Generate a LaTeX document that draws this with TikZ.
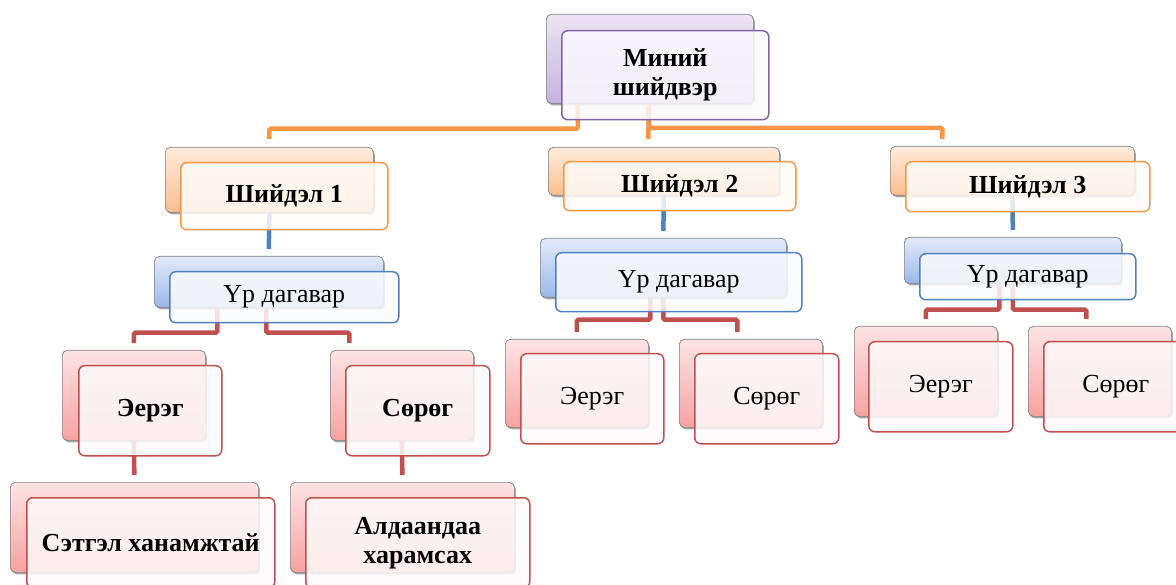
\documentclass[tikz,border=0pt]{standalone}
\usepackage{fontspec}
\setmainfont{Liberation Serif}
\usetikzlibrary{shadows,calc}
\definecolor{pB}{HTML}{8064A2}\definecolor{pT}{HTML}{EBE5F4}\definecolor{pD}{HTML}{C4B3DF}
\definecolor{oB}{HTML}{F79646}\definecolor{oT}{HTML}{FEECDE}\definecolor{oD}{HTML}{FBBE8E}
\definecolor{bB}{HTML}{4F81BD}\definecolor{bT}{HTML}{E3EBFA}\definecolor{bD}{HTML}{9BB8EB}
\definecolor{rB}{HTML}{C0504D}\definecolor{rT}{HTML}{FDE4E4}\definecolor{rD}{HTML}{F6A2A1}
\newcommand\backbox[6]{\node[backbox, minimum width=#4pt, minimum height=#5pt, top color=#6T, bottom color=#6D] (#1) at (#2,#3) {};}
\newcommand\frontbox[8]{\node[frontbox, draw=#6B, fill=#6B!3!white, minimum width=#4pt, minimum height=#5pt, font=#7] (#1) at (#2,#3) {#8};}
\begin{document}
\begin{tikzpicture}[x=1pt,y=-1pt,
  backbox/.style={draw=black!50, line width=0.7pt, rounded corners=5pt, anchor=north west, inner sep=0pt,
    drop shadow={shadow xshift=1.5pt, shadow yshift=-2pt, opacity=.35, fill=black}},
  frontbox/.style={line width=1.5pt, rounded corners=6pt, anchor=north west, inner sep=2pt, align=center,
    fill opacity=.85, text opacity=1},
  conn/.style={line width=4.5pt, rounded corners=1.5pt},
]
\useasboundingbox (0,0) rectangle (1176,585);
\def\fb{\fontsize{26}{29}\selectfont\bfseries}
\def\fr{\fontsize{26}{29}\selectfont}
% back boxes
\backbox{rootB}{546}{14}{207}{89}{p}
\backbox{s1B}{165}{147}{208}{65}{o}
\backbox{s2B}{548}{147}{231}{48}{o}
\backbox{s3B}{890}{146}{244}{49}{o}
\backbox{u1B}{154}{256}{229}{51}{b}
\backbox{u2B}{540}{238}{246}{59}{b}
\backbox{u3B}{904}{237}{217}{46}{b}
\backbox{e1B}{62}{350}{143}{90}{r}
\backbox{c1B}{330}{350}{143}{90}{r}
\backbox{e2B}{505}{339}{143}{88}{r}
\backbox{c2B}{679}{339}{143}{88}{r}
\backbox{e3B}{854}{326}{143}{90}{r}
\backbox{c3B}{1028}{326}{143}{90}{r}
\backbox{t1B}{10}{482}{248}{90}{r}
\backbox{t2B}{290}{482}{224}{90}{r}
% connectors
\draw[conn, oB] ([xshift=-72pt]rootB.south) -- ++(0,25) -| ([yshift=8pt]s1B.north);
\draw[conn, oB] ([xshift=-1pt]rootB.south) |- ([xshift=-70pt,yshift=18pt]s3B.north) -- ([xshift=-70pt,yshift=7pt]s3B.north);
\draw[conn, oB] ([xshift=-1pt]rootB.south) -- ([xshift=-15.5pt,yshift=8pt]s2B.north);
\draw[conn, bB] (s1B.south) -- ([yshift=7pt]u1B.north);
\draw[conn, bB] (s2B.south) -- ([yshift=7pt]u2B.north);
\draw[conn, bB] (s3B.south) -- ([yshift=7pt]u3B.north);
\draw[conn, rB] ([xshift=-51.5pt]u1B.south) -- ++(0,25) -| ([yshift=7pt]e1B.north);
\draw[conn, rB] ([xshift=-2.5pt]u1B.south) -- ++(0,25) -| ([xshift=-52.5pt,yshift=7pt]c1B.north);
\draw[conn, rB] ([xshift=-13pt]u2B.south) -- ++(0,22) -| ([yshift=7pt]e2B.north);
\draw[conn, rB] (u2B.south) -- ++(0,22) -| ([xshift=-13.5pt,yshift=7pt]c2B.north);
\draw[conn, rB] ([xshift=-13.5pt]u3B.south) -- ++(0,26) -| ([yshift=7pt]e3B.north);
\draw[conn, rB] (u3B.south) -- ++(0,26) -| ([xshift=-13.5pt,yshift=7pt]c3B.north);
\draw[conn, rB] (e1B.south) -- ([yshift=7pt]t1B.north);
\draw[conn, rB] (c1B.south) -- ([yshift=7pt]t2B.north);
% front boxes
\frontbox{rootF}{561}{30}{207}{89}{p}{\fb}{Миний\\шийдвэр}
\frontbox{s1F}{180}{162}{207}{67}{o}{\fb}{Шийдэл 1}
\frontbox{s2F}{563}{161}{232}{49}{o}{\fb}{Шийдэл 2}
\frontbox{s3F}{905}{161}{244}{50}{o}{\fb}{Шийдэл 3}
\frontbox{u1F}{169}{271}{229}{51}{b}{\fr}{Үр дагавар}
\frontbox{u2F}{555}{252}{246}{59}{b}{\fr}{Үр дагавар}
\frontbox{u3F}{919}{253}{216}{46}{b}{\fr}{Үр дагавар}
\frontbox{e1F}{78}{365}{143}{90}{r}{\fb}{Эерэг}
\frontbox{c1F}{345}{365}{144}{90}{r}{\fb}{Сөрөг}
\frontbox{e2F}{520}{353}{143}{90}{r}{\fr}{Эерэг}
\frontbox{c2F}{694}{353}{144}{90}{r}{\fr}{Сөрөг}
\frontbox{e3F}{868}{341}{144}{90}{r}{\fr}{Эерэг}
\frontbox{c3F}{1043}{341}{144}{90}{r}{\fr}{Сөрөг}
\frontbox{t1F}{26}{497}{248}{90}{r}{\fb}{Сэтгэл ханамжтай}
\frontbox{t2F}{305}{497}{224}{90}{r}{\fb}{Алдаандаа\\харамсах}
\end{tikzpicture}
\end{document}
